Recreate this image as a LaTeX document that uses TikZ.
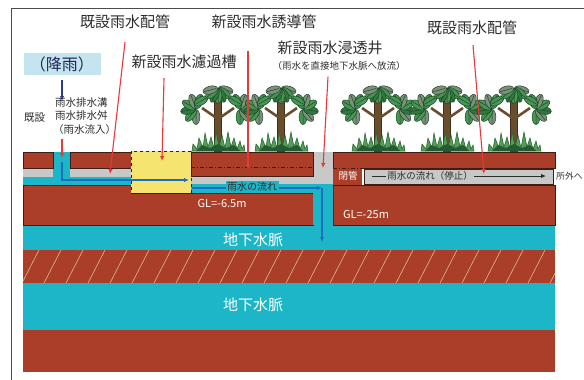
\documentclass[tikz,border=0pt]{standalone}
\usepackage{fontspec}
\setmainfont{Noto Sans CJK JP}
\usetikzlibrary{arrows.meta,calc}

\definecolor{soil}{RGB}{170,62,40}
\definecolor{soilline}{RGB}{60,30,20}
\definecolor{water}{RGB}{28,182,200}
\definecolor{pipegrey}{RGB}{200,200,200}
\definecolor{filterY}{RGB}{246,228,112}
\definecolor{rainbox}{RGB}{196,228,240}
\definecolor{callout}{RGB}{232,56,60}
\definecolor{flow}{RGB}{30,110,190}
\definecolor{rainarrow}{RGB}{45,60,140}
\definecolor{leafdark}{RGB}{28,70,40}
\definecolor{leafA}{RGB}{72,150,84}
\definecolor{leafB}{RGB}{125,145,122}
\definecolor{leafC}{RGB}{50,120,62}
\definecolor{trunk}{RGB}{105,78,45}
\definecolor{grass}{RGB}{78,160,82}
\definecolor{grassdark}{RGB}{40,90,50}
\definecolor{hatch}{RGB}{222,186,146}
\definecolor{ink}{RGB}{45,45,45}

\tikzset{
  callarrow/.style={draw=callout, line width=1.1pt, -{Latex[length=5pt,width=4.5pt]}},
  flowarrow/.style={draw=flow, line width=1.1pt, -{Latex[length=5pt,width=4.5pt]}},
  headline/.style={font=\fontsize{15}{17}\selectfont, text=ink, inner sep=0pt},
  smalltext/.style={font=\fontsize{10.5}{12}\selectfont, text=ink, inner sep=0pt},
  whitetext/.style={text=white, inner sep=0pt},
  soilblock/.style={fill=soil, draw=soilline, line width=0.7pt},
  tree/.pic={
    \begin{scope}[yscale=-1]
      \fill[trunk, draw=trunk!60!black, line width=0.4pt] (-3.5,0) rectangle (3.5,60);
      \draw[trunk, line width=2.6pt] (0,32) -- (-16,43) (0,32) -- (16,43) (0,48) -- (-7,56) (0,48) -- (7,56);
      % leaf clusters: left, right, crown
      \foreach \cx/\cy/\a/\lc in {
          -22/42/90/leafB, -22/42/130/leafA, -22/42/170/leafC, -22/42/210/leafA, -22/42/250/leafB, -22/42/290/leafA,
          22/42/90/leafA, 22/42/50/leafB, 22/42/10/leafC, 22/42/-30/leafA, 22/42/-70/leafB, 22/42/-110/leafA,
          -10/54/150/leafA, 10/54/30/leafA,
          0/63/15/leafB, 0/63/40/leafA, 0/63/65/leafC, 0/63/90/leafA, 0/63/115/leafC, 0/63/140/leafA, 0/63/165/leafB}
        \filldraw[fill=\lc, draw=leafdark, line width=0.5pt, shift={(\cx,\cy)}, rotate=\a]
          (8,0) ellipse (7.5 and 3.9) (2,0) -- (14.5,0);
      % grass tuft
      \filldraw[fill=grass, draw=grassdark, line width=0.5pt]
        (-26,0) -- (-25,7) -- (-21,2) -- (-19,13) -- (-15,3) -- (-13,18) -- (-10,4) -- (-7,14)
        -- (-4,3) -- (-2,20) -- (1,4) -- (4,16) -- (7,3) -- (10,19) -- (13,4) -- (16,13)
        -- (19,2) -- (22,10) -- (24,2) -- (26,6) -- (27,0) -- cycle;
      \fill[grassdark] (-22,0) -- (-16,6) -- (-8,3) -- (0,7) -- (8,3) -- (16,6) -- (22,0) -- cycle;
    \end{scope}
  }
}

\begin{document}
\begin{tikzpicture}[x=1pt,y=-1pt]
\useasboundingbox (0,0) rectangle (584,380);

% frame
\draw[line width=1pt, black!70] (11,380) -- (11,8) -- (584,8);

% deep strata
\fill[soil] (23,330) rectangle (555,372);
\fill[water] (23,283) rectangle (555,330);
\fill[soil] (23,250) rectangle (555,283);
\begin{scope}
  \clip (23,250) rectangle (555,283);
  \foreach \x in {22,44,...,560}
    \draw[hatch, line width=0.6pt] (\x,283) -- ++(17,-33);
\end{scope}
\fill[water] (23,225) rectangle (555,250);

% lower soil blocks
\path[soilblock] (23,185) -- (131,185) -- (131,193) -- (313,193) -- (313,225) -- (23,225) -- cycle;
\path[soilblock] (333,185) rectangle (555,225);

% horizontal pipes
\fill[pipegrey] (23,168) rectangle (131,177);
\fill[water] (23,177) rectangle (131,185);
\fill[pipegrey] (191,176) rectangle (313,184);
\fill[water] (191,184) rectangle (313,193);

% infiltration well
\fill[pipegrey] (313,152) rectangle (333,185);
\fill[water] (313,184) rectangle (333,225);

% drainage inlet
\fill[water] (53,152) rectangle (70,177);

% surface soil
\path[soilblock] (23,152) rectangle (53,168);
\path[soilblock] (70,152) rectangle (131,168);
\path[soilblock] (191,152) rectangle (313,176);
\draw[soilline, dash pattern=on 4pt off 2pt on 1pt off 2pt, line width=0.8pt] (191,167) -- (313,167);
\path[soilblock] (333,152) rectangle (555,168);
\fill[soil] (333,168) rectangle (362,185);
\draw[soilline, dash pattern=on 4pt off 2pt on 1pt off 2pt, line width=0.8pt] (333,168) -- (362,168) (333,185) -- (362,185);
\filldraw[fill=pipegrey, draw=soilline, line width=0.7pt] (364,169) rectangle (553,184);

% filtration tank
\filldraw[fill=filterY, draw=soilline, dashed, line width=0.7pt] (131,151) rectangle (191,193);

% trees
\foreach \tx in {218,281,378,447,514}
  \pic at (\tx,151) {tree};

% rain
\node[fill=rainbox, minimum width=77pt, minimum height=22pt, inner sep=0pt,
      font=\fontsize{16}{18}\selectfont, text=ink!80!blue] (rain) at (62,64) {（降雨）};
\coordinate (rainEnd) at (62,101);
\draw[draw=rainarrow, line width=1.1pt, -{Latex[length=5pt,width=4.5pt]}, shorten <=5pt] (rain.south) -- (rainEnd);

% inlet labels
\node[smalltext, anchor=west] (exist) at (24,118) {既設};
\node[smalltext, anchor=west] (ditch) at (55,103) {雨水排水溝};
\node[smalltext, anchor=west] (basin) at (55,116) {雨水排水舛};
\node[smalltext, anchor=west] (inflow) at (53,130) {（雨水流入）};
\coordinate (inletEnd) at (62,158);
\draw[callarrow] ($(inflow.south west)+(9,4)$) -- (inletEnd);

% headlines with red leaders
\node[headline] (pipeL) at (125,22) {既設雨水配管};
\coordinate (pipeLEnd) at (110,174);
\draw[callarrow] ($(pipeL.south)+(0,13)$) -- (pipeLEnd);

\node[headline] (filterLbl) at (184,62) {新設雨水濾過槽};
\coordinate (filterEnd) at (162,161);
\draw[callarrow] ($(filterLbl.south)+(-20,9)$) -- (filterEnd);

\node[headline] (guide) at (264,22) {新設雨水誘導管};
\coordinate (guideEnd) at (248,170);
\draw[callarrow] ($(guide.south)+(-16,22)$) -- (guideEnd);

\node[headline] (well) at (330,48) {新設雨水浸透井};
\node[font=\fontsize{9.5}{11}\selectfont, text=ink, inner sep=0pt] (wellSub) at (339,66) {（雨水を直接地下水脈へ放流）};
\coordinate (wellEnd) at (323,168);
\draw[callarrow] ($(wellSub.south)+(-11,6)$) -- (wellEnd);

\node[headline] (pipeR) at (472,28) {既設雨水配管};
\coordinate (pipeREnd) at (484,174);
\draw[callarrow] ($(pipeR.south)+(1,10)$) -- (pipeREnd);

% flow arrows
\coordinate (inletTop) at (62,162);
\coordinate (filterIn) at (189,180);
\draw[flowarrow] (inletTop) |- (filterIn);

\coordinate (filterOut) at (192,188);
\coordinate (wellCorner) at (322,188);
\coordinate (aquiferIn) at (322,242);
\draw[flowarrow] (filterOut) -- (wellCorner);
\draw[flowarrow] (wellCorner) -- (aquiferIn);
\node[fill=water, inner sep=1.5pt, font=\fontsize{10}{11}\selectfont, text=ink] (flowLbl) at (252,187) {雨水の流れ};

\coordinate (stopStart) at (372,176);
\coordinate (stopEnd) at (546,176);
\draw[ink, line width=1pt, -{Latex[length=5pt,width=4.5pt]}] (stopStart) -- (stopEnd);
\node[fill=pipegrey, inner sep=1.5pt, font=\fontsize{9.5}{11}\selectfont, text=ink] (stopLbl) at (430,176) {雨水の流れ（停止）};
\node[font=\fontsize{8.8}{10}\selectfont, text=ink, anchor=west, inner sep=0pt] (outside) at (556,176) {所外へ};

% white labels on soil and water
\node[whitetext, font=\fontsize{9.5}{11}\selectfont] (closed) at (348,176) {閉管};
\node[whitetext, font=\fontsize{11}{12}\selectfont] (gl1) at (222,203) {GL=-6.5m};
\node[whitetext, font=\fontsize{11}{12}\selectfont] (gl2) at (366,214) {GL=-25m};
\node[whitetext, font=\fontsize{15}{17}\selectfont] (aq1) at (253,240) {地下水脈};
\node[whitetext, font=\fontsize{15}{17}\selectfont] (aq2) at (253,305) {地下水脈};

\end{tikzpicture}
\end{document}
